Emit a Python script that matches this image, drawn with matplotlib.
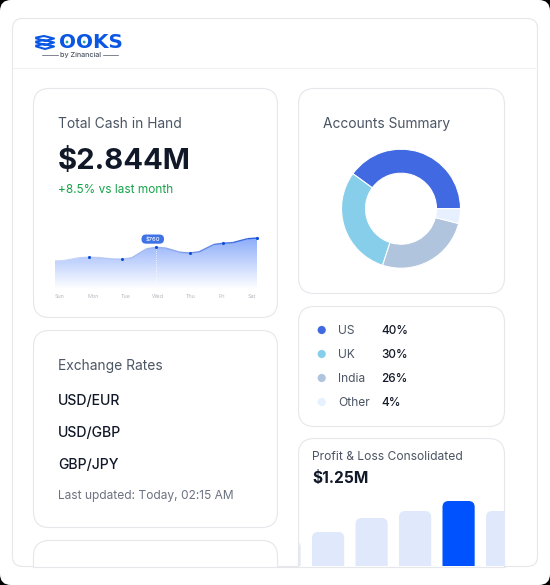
import numpy as np
import matplotlib
matplotlib.use("Agg")
import matplotlib.pyplot as plt
from matplotlib.patches import FancyBboxPatch, Circle, Rectangle, PathPatch
from matplotlib.path import Path
from matplotlib.collections import LineCollection
from matplotlib.colors import LinearSegmentedColormap

W, H = 550, 585
plt.rcParams['font.family'] = ['Inter', 'DejaVu Sans']

days = ["Sun", "Mon", "Tue", "Wed", "Thu", "Fri", "Sat"]
cash = [324, 367, 344, 483, 417, 530, 590]
marked_days = [1, 2, 3, 4, 5, 6]
callout_label = "$760"

regions = ["US", "UK", "India", "Other"]
shares = [40, 30, 26, 4]
region_colors = ["#4169E1", "#87CEEB", "#B0C4DE", "#E6F0FF"]

pairs = ["USD/EUR", "USD/GBP", "GBP/JPY"]
bar_values = [25, 34, 48, 55, 65, 55]
bar_colors = ["#E0E8FB", "#E0E8FB", "#E0E8FB", "#E0E8FB", "#0052FF", "#E0E8FB"]

BORDER = "#E5E7EB"
DARK = "#111827"
GREY = "#4B5563"

fig = plt.figure(figsize=(W / 100, H / 100), dpi=100, facecolor="black")


def px_axes(x0, y0, x1, y1, **kw):
    return fig.add_axes([x0 / W, 1 - y1 / H, (x1 - x0) / W, (y1 - y0) / H], **kw)


bg = px_axes(0, 0, W, H)
bg.set_xlim(0, W)
bg.set_ylim(H, 0)
bg.axis("off")
bg.set_zorder(0)


def rbox(x0, y0, x1, y1, r, fc="white", ec=BORDER, lw=0.8, z=1, clip=None):
    p = FancyBboxPatch((x0, y0), x1 - x0, y1 - y0,
                       boxstyle=f"round,pad=0,rounding_size={r}",
                       fc=fc, ec=ec, lw=lw, zorder=z)
    bg.add_patch(p)
    if clip is not None:
        p.set_clip_path(clip)
    return p


def T(x, y, s, size, color=DARK, weight="normal", ha="left", **kw):
    return bg.text(x, y, s, fontsize=size * 0.72, color=color, fontweight=weight,
                   ha=ha, va="center", zorder=6, **kw)


# outer white frame, black only at the image corners
rbox(0, 0, W, H, 11, ec="none", z=0)
inner = rbox(12.5, 18.5, 537.5, 566.5, 10, z=1)
bg.plot([13, 537], [67.5, 67.5], color="#F0F1F3", lw=0.72, zorder=2)

clip_rect = Rectangle((0, 0), W, 566.5, transform=bg.transData)
for box in [(33.5, 88.5, 277.5, 317.5), (33.5, 330.5, 277.5, 527.5),
            (33.5, 540.5, 277.5, 600), (298.5, 88.5, 504.5, 293.5),
            (298.5, 306.5, 504.5, 426.5), (298.5, 438.5, 504.5, 600)]:
    rbox(*box, 16, z=2, clip=clip_rect)
bg.plot([33, 505], [566.5, 566.5], color=BORDER, lw=0.8, zorder=5)

# logo
LOGO = "#0B57E3"
for yy in (38.5, 42.5, 46.5):
    bg.plot([36.5, 44, 54, 45, 36.5], [yy - 1, yy - 2.5, yy, yy + 2.5, yy],
            color=LOGO, lw=1.5, zorder=6, solid_joinstyle="round")
T(58.5, 42, "OOKS", 20, LOGO, "bold", family="DejaVu Sans")
for cx in (67, 84.2):
    bg.add_patch(Circle((cx, 42), 1.4, fc="#1FA8A0", ec="none", zorder=7))
T(80, 55.3, "by Zinancial", 7.2, "#4B5563", "medium", ha="center")
bg.plot([42, 58], [55, 55], color="#4B5563", lw=0.5, zorder=6)
bg.plot([103, 118], [55, 55], color="#4B5563", lw=0.5, zorder=6)

# headings and stat
T(58, 124.4, "Total Cash in Hand", 13.8, GREY)
T(58, 161, "$2.844M", 29.2, DARK, "bold")
T(58, 190, "+8.5% vs last month", 11.8, "#16A34A")

T(58, 366, "Exchange Rates", 13.8, GREY)
for p, y in zip(pairs, (401, 433, 465)):
    T(58, y, p, 14, DARK, "medium")
T(58, 496, "Last updated: Today, 02:15 AM", 12, "#6B7280")

T(323, 124.4, "Accounts Summary", 13.8, GREY)

T(312, 457.5, "Profit & Loss Consolidated", 12.1, GREY)
T(312, 478, "$1.25M", 15.5, DARK, "bold")

# legend
for name, pct, col, y in zip(regions, shares, region_colors, (330, 354, 378, 402)):
    bg.add_patch(Circle((321.7, y), 4.1, fc=col, ec="none", zorder=6))
    T(338, y + 1, name, 12, GREY)
    T(381.5, y + 1, f"{pct}%", 11.8, DARK, "medium")

# donut
ax_d = px_axes(401 - 62, 208.7 - 62, 401 + 62, 208.7 + 62)
ax_d.pie(shares, colors=region_colors, startangle=0, counterclock=True, radius=59.5 / 62,
         wedgeprops=dict(width=24 / 62, edgecolor="white", linewidth=0.8))
ax_d.set_xlim(-1, 1)
ax_d.set_ylim(-1, 1)
ax_d.set_aspect("equal")
ax_d.set_zorder(3)

# area chart with a smooth line, baseline at 0
ax_l = px_axes(55, 232, 257, 289)
ax_l.set_zorder(3)
ax_l.patch.set_alpha(0)
xs = np.arange(len(days), dtype=float)
ys = np.array(cash, dtype=float)
ax_l.axis("off")

verts = [(xs[0], ys[0])]
codes = [Path.MOVETO]
for i in range(len(xs) - 1):
    dx = (xs[i + 1] - xs[i]) * 0.42
    verts += [(xs[i] + dx, ys[i]), (xs[i + 1] - dx, ys[i + 1]), (xs[i + 1], ys[i + 1])]
    codes += [Path.CURVE4] * 3
line_path = Path(verts, codes)
area_path = Path(verts + [(xs[-1], 0), (xs[0], 0), (xs[0], ys[0])],
                 codes + [Path.LINETO, Path.LINETO, Path.CLOSEPOLY])
grad = np.ones((256, 1, 4))
top, bot = np.array([0.50, 0.64, 0.98]), np.array([1.0, 1.0, 1.0])
t = np.linspace(0, 1, 256)[:, None]
grad[:, 0, :3] = top * (1 - t) + bot * t
im = ax_l.imshow(grad, extent=[xs[0], xs[-1], 0, 660], aspect="auto", origin="upper", zorder=1)
area = PathPatch(area_path, fc="none", ec="none", transform=ax_l.transData)
ax_l.add_patch(area)
im.set_clip_path(area)
ax_l.set_xlim(xs[0], xs[-1])
ax_l.set_ylim(0, 660)

# the stroke fades from pale at the left to strong blue at the right
curve = line_path.to_polygons(closed_only=False)[0]
segs = np.stack([curve[:-1], curve[1:]], axis=1)
stroke = LineCollection(segs, cmap=LinearSegmentedColormap.from_list("s", ["#C9D8F8", "#9DB6F0", "#2F62DC"]),
                        linewidths=1.0, zorder=3, clip_on=False)
stroke.set_array(segs[:, 0, 0])
ax_l.add_collection(stroke)
ax_l.plot([3, 3], [0, cash[3]], color="white", lw=0.6, ls=":", zorder=2)
ax_l.scatter(xs[marked_days], ys[marked_days], s=5, color="#0B4FD8", zorder=4, clip_on=False, linewidths=0)

label_xs = (60, 93, 126, 158, 191, 222, 252)
for d, x in zip(days, label_xs):
    T(x, 296.5, d, 5.5, "#B4B8C0", ha="center")
rbox(141.5, 234.5, 164, 243.7, 4.5, fc="#3F73E5", ec="none", z=6)
T(152.7, 239.3, callout_label, 5.8, "white", "medium", ha="center").set_zorder(7)

# bars, clipped by the card
ax_b = px_axes(298.5, 496, 504.5, 566)
ax_b.set_zorder(3)
ax_b.patch.set_alpha(0)
ax_b.axis("off")
ax_b.set_xlim(0.32, 0.32 + 206 / 43.5)
ax_b.set_ylim(0, 70)
idx = np.arange(len(bar_values))
for i, v, c in zip(idx, bar_values, bar_colors):
    ax_b.add_patch(FancyBboxPatch((i - 0.37, -10), 0.74, v + 10,
                                  boxstyle="round,pad=0,rounding_size=0.14",
                                  mutation_aspect=43.5,
                                  fc=c, ec="none"))

fig.savefig("out.png", dpi=100, facecolor="black")
